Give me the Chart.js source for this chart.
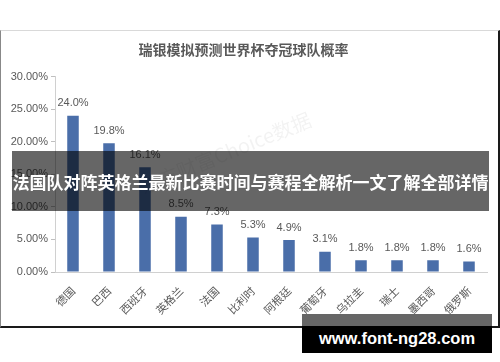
<!DOCTYPE html>
<html>
<head>
<meta charset="utf-8">
<script src="https://cdn.jsdelivr.net/npm/chart.js@4.4.0/dist/chart.umd.min.js"></script>
<style>
  body { margin: 0; background: #fff; }
  #wrap { position: relative; width: 500px; height: 362px; overflow: hidden; font-family: "Noto Sans CJK SC", sans-serif; }
  #frame { position: absolute; left: 0; top: 30px; width: 497px; height: 295px;
    border-top: 1px solid #d9d9d9; border-left: 1px solid #888; border-right: 2px solid #1a1a1a; border-bottom: 2px solid #1a1a1a; }
  #c { position: absolute; left: 0; top: 0; }
  #mark { position: absolute; left: 140px; top: 172px; color: rgba(0,0,0,0.05); font-size: 20px;
    transform: rotate(-22deg); transform-origin: left center; white-space: nowrap; }
  #banner { position: absolute; left: 12px; top: 151px; width: 477px; height: 60px; background: rgba(0,0,0,0.6);
    color: #fff; font-weight: bold; font-size: 17px; line-height: 62px; text-align: center; white-space: nowrap; }
  #site { position: absolute; left: 302px; top: 314px; width: 190px; height: 39px;
    background: linear-gradient(#666 0, #666 12px, #000 12px, #000 100%);
    color: #fff; font-family: "Liberation Sans", sans-serif; font-weight: bold; font-size: 16.5px; text-align: center;
    line-height: 22px; padding-top: 13px; box-sizing: border-box; white-space: nowrap; }
</style>
</head>
<body>
<div id="wrap">
  <div id="frame"></div>
  <canvas id="c" width="500" height="362"></canvas>
  <div id="mark">东方财富Choice数据</div>
  <div id="banner">法国队对阵英格兰最新比赛时间与赛程全解析一文了解全部详情</div>
  <div id="site">www.font-ng28.com</div>
</div>
<script>
const teams = ["德国", "巴西", "西班牙", "英格兰", "法国", "比利时", "阿根廷", "葡萄牙", "乌拉圭", "瑞士", "墨西哥", "俄罗斯"]
const probs = [24.0, 19.8, 16.1, 8.5, 7.3, 5.3, 4.9, 3.1, 1.8, 1.8, 1.8, 1.6]
const yTicks = [0, 5, 10, 15, 20, 25, 30]

// value labels above each bar
const barLabels = {
  id: "barLabels",
  afterDatasetsDraw(chart) {
    const ctx = chart.ctx
    const meta = chart.getDatasetMeta(0)
    ctx.save()
    ctx.font = "11px 'Liberation Sans', sans-serif"
    ctx.fillStyle = "#595959"
    ctx.textAlign = "center"
    ctx.textBaseline = "bottom"
    meta.data.forEach((bar, i) => {
      ctx.fillText(probs[i].toFixed(1) + "%", bar.x, bar.y - 7)
    })
    ctx.restore()
  }
}

var ctx = document.getElementById("c").getContext("2d");
var chart = new Chart(ctx, {
  type: "bar",
  data: {
    labels: teams,
    datasets: [
      {
        label: "夺冠概率",
        data: probs,
        backgroundColor: "#4a6ea9",
        categoryPercentage: 0.8,
        barPercentage: 0.4
      }
    ]
  },
  options: {
    responsive: false,
    animation: false,
    layout: { padding: { top: 30, left: 0, right: 13, bottom: 30 } },
    plugins: {
      legend: { display: false },
      tooltip: { enabled: false },
      title: {
        display: true,
        text: "瑞银模拟预测世界杯夺冠球队概率",
        color: "#595959",
        font: { family: "'Noto Sans CJK SC', sans-serif", size: 14, weight: "bold" },
        padding: { top: 11, bottom: 19 }
      }
    },
    scales: {
      x: {
        grid: { display: false },
        border: { display: true, color: "#d0d0d0" },
        ticks: {
          color: "#595959",
          font: { family: "'Noto Sans CJK SC', sans-serif", size: 11 },
          minRotation: 45,
          maxRotation: 45,
          padding: 4
        },
        afterFit(scale) { scale.height = 60 }
      },
      y: {
        min: 0,
        max: 30,
        afterBuildTicks(scale) { scale.ticks = yTicks.map(v => ({ value: v })) },
        grid: { drawOnChartArea: false, tickLength: 4, color: "#bfbfbf" },
        border: { display: true, color: "#d0d0d0" },
        ticks: {
          color: "#595959",
          font: { family: "'Liberation Sans', sans-serif", size: 11 },
          padding: 3,
          callback: v => v.toFixed(2) + "%"
        },
        afterFit(scale) { scale.width = 55 }
      }
    }
  },
  plugins: [barLabels]
});
</script>
</body>
</html>
